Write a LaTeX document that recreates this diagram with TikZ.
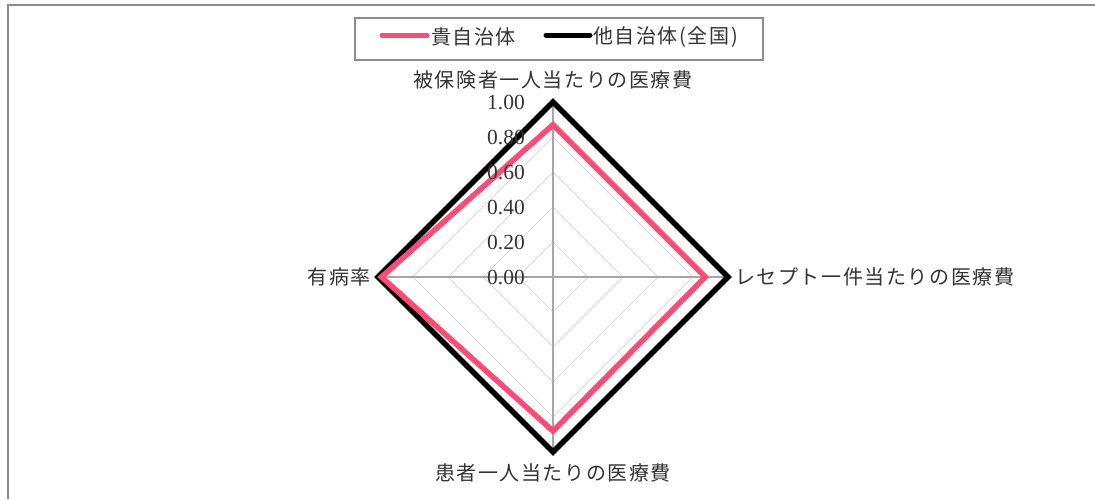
\documentclass[tikz,border=0pt]{standalone}
\usepackage{fontspec}
\setmainfont{Liberation Serif}
\newfontfamily\jpfont[LetterSpace=8]{Noto Sans CJK JP}
\usepackage{tikz}
\usetikzlibrary{positioning}
\definecolor{ownpink}{HTML}{FF4A74}
\definecolor{gridgray}{HTML}{D9D9D9}
\definecolor{axisgray}{HTML}{A6A6A6}
\definecolor{framegray}{HTML}{8C8C8C}
\tikzstyle{axislabel}=[font=\jpfont\fontsize{20}{23}\selectfont, text=black!80, inner sep=0pt]
\tikzstyle{ticklabel}=[font=\fontsize{21.5}{24}\selectfont, text=black!80, anchor=east, inner sep=0pt]
\tikzstyle{gridline}=[draw=gridgray, line width=1pt]
\tikzstyle{own}=[draw=ownpink, line width=5.5pt, line join=miter]
\tikzstyle{national}=[draw=black, line width=5.5pt, line join=miter]

\begin{document}
\begin{tikzpicture}[x=1pt, y=-1pt]
    \useasboundingbox (0,0) rectangle (1095,499);
    \draw[framegray, line width=2pt] (7.5,499) -- (7.5,4.5) -- (1095,4.5);

    % legend
    \node[draw=framegray, line width=1.5pt, minimum width=408pt, minimum height=42pt, inner sep=0pt] (legend) at (559,39) {};
    \coordinate (ownA) at (382,35);
    \coordinate (ownB) at (427,35);
    \coordinate (natA) at (546,35);
    \coordinate (natB) at (590,35);
    \draw[ownpink, line width=5pt, line cap=round] (ownA) -- (ownB);
    \draw[black, line width=5pt, line cap=round] (natA) -- (natB);
    \node[axislabel, anchor=west] (ownname) at (431,37) {貴自治体};
    \node[axislabel, anchor=west] (natname) at (593,37) {他自治体(全国)};

    \begin{scope}[shift={(553,277)}]
        \coordinate (top) at (0,-175);
        \coordinate (right) at (175,0);
        \coordinate (bottom) at (0,175);
        \coordinate (left) at (-175,0);
        \foreach \v in {0.2,0.4,0.6,0.8}
            \draw[gridline] (0,{-175*\v}) -- ({175*\v},0) -- (0,{175*\v}) -- ({-175*\v},0) -- cycle;
        \draw[axisgray, line width=1.2pt] (top) -- (bottom);
        \draw[axisgray, line width=1.2pt] (left) -- (right);

        \draw[national] (top) -- (right) -- (bottom) -- (left) -- cycle;
        \draw[own] (0,{-175*0.87}) -- ({175*0.87},0) -- (0,{175*0.88}) -- ({-175*0.98},0) -- cycle;

        \foreach \v/\t in {0/0.00,0.2/0.20,0.4/0.40,0.6/0.60,0.8/0.80,1/1.00}
            \node[ticklabel] (tick\v) at (-28,{-175*\v}) {\t};

        \node[axislabel] (ltop) at (0,-197) {被保険者一人当たりの医療費};
        \node[axislabel, anchor=west] (lright) at (182,0) {レセプト一件当たりの医療費};
        \node[axislabel] (lbottom) at (0,196) {患者一人当たりの医療費};
        \node[axislabel, anchor=east] (lleft) at (-182,0) {有病率};
    \end{scope}
\end{tikzpicture}
\end{document}
